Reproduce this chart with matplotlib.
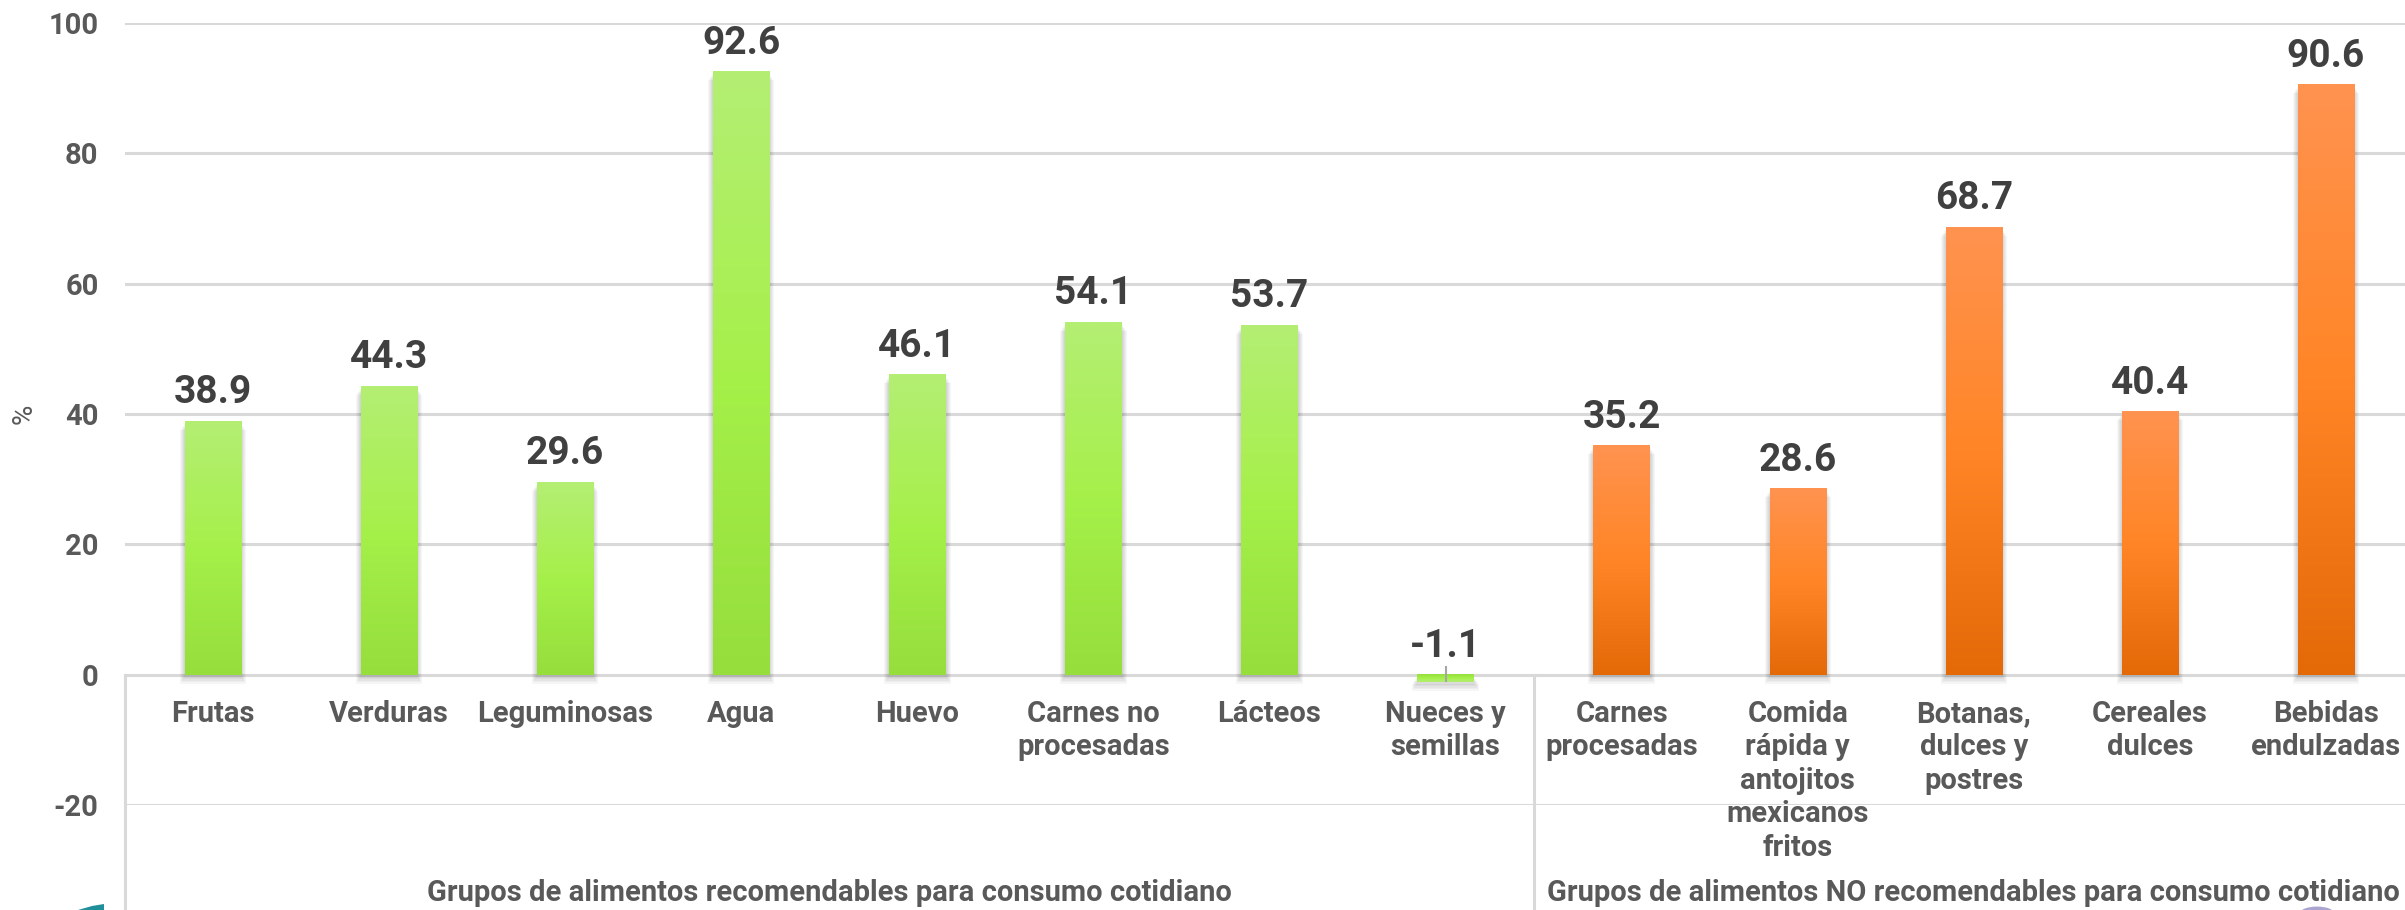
import matplotlib
matplotlib.use("Agg")
import matplotlib.pyplot as plt
import matplotlib.transforms as mtransforms
from matplotlib.patches import Rectangle, Circle, Polygon
import numpy as np

# ---------------- data ----------------
categories = ["Frutas", "Verduras", "Leguminosas", "Agua", "Huevo",
              "Carnes no\nprocesadas", "Lácteos", "Nueces y\nsemillas",
              "Carnes\nprocesadas", "Comida\nrápida y\nantojitos\nmexicanos\nfritos",
              "Botanas,\ndulces y\npostres", "Cereales\ndulces", "Bebidas\nendulzadas"]
values = [38.9, 44.3, 29.6, 92.6, 46.1, 54.1, 53.7, -1.1,
          35.2, 28.6, 68.7, 40.4, 90.6]
groups = ["Grupos de alimentos recomendables para consumo cotidiano",
          "Grupos de alimentos NO recomendables para consumo cotidiano"]
group_sizes = [8, 5]
yticks = [-20, 0, 20, 40, 60, 80, 100]

plt.rcParams['font.family'] = ['Roboto', 'Liberation Sans', 'DejaVu Sans']

W, H = 2405, 910
fig = plt.figure(figsize=(W / 100, H / 100), dpi=100)
fig.patch.set_facecolor("white")

left_px, right_px, top_px, bot_px = 125, 2414, 23, 805
ax = fig.add_axes([left_px / W, (H - bot_px) / H, (right_px - left_px) / W, (bot_px - top_px) / H])
ax.set_xlim(-0.5, len(categories) - 0.5)
ax.set_ylim(-20, 100)
for s in ax.spines.values():
    s.set_visible(False)

GRID = "#d9d9d9"
TXT = "#595959"
LBL = "#404040"

for t in yticks:
    ax.axhline(t, color=GRID, lw=2.2, zorder=1)
ax.set_yticks(yticks)
ax.set_yticklabels([str(t) for t in yticks], fontsize=21, fontweight="bold", color=TXT)
ax.tick_params(axis="y", length=0, pad=19)
ax.set_xticks([])
fig.text(24 / W, (H - 414) / H, "%", rotation=90, ha="center", va="center",
         fontsize=20, color=TXT)

# gradient colormaps
green = matplotlib.colors.LinearSegmentedColormap.from_list(
    "g", ["#95de3c", "#a6f04a", "#b4ee74"])
orange = matplotlib.colors.LinearSegmentedColormap.from_list(
    "o", ["#e46a08", "#ff8526", "#ff9350"])

bw = 0.32
grad = np.linspace(0, 1, 256).reshape(-1, 1)
n_first = group_sizes[0]
px_per_y = (bot_px - top_px) / 120.0
px_per_x = (right_px - left_px) / len(categories)
for i, v in enumerate(values):
    cmap = green if i < n_first else orange
    lo, hi = min(0, v), max(0, v)
    # soft shadow (mostly below the bar)
    for k in range(5):
        off = (3 + k * 1.5) / px_per_y
        grow = (1 + k) / px_per_x
        ax.add_patch(Rectangle((i - bw / 2 - grow, lo - off), bw + 2 * grow, hi - lo,
                               facecolor="#000000", alpha=0.035, lw=0, zorder=2))
    ax.imshow(grad if v >= 0 else grad[::-1], cmap=cmap, origin="lower", aspect="auto",
              extent=(i - bw / 2, i + bw / 2, lo, hi), zorder=3, interpolation="bilinear")
    ax.annotate(f"{v:.1f}", xy=(i, max(v, 0)), xytext=(0, 7), textcoords="offset points",
                ha="center", va="bottom", fontsize=28, fontweight="bold", color=LBL, zorder=5)
    if v < 0:
        ax.plot([i, i], [v * 0.9, 1.1], color="#a6a6a6", lw=1.5, zorder=4)
    ax.annotate(categories[i], xy=(i, 0), xytext=(0, -18), textcoords="offset points",
                ha="center", va="top", fontsize=21, fontweight="bold", color=TXT,
                multialignment="center", linespacing=1.25, annotation_clip=False)

ax.set_xlim(-0.5, len(categories) - 0.5)
ax.set_ylim(-20, 100)

# category-level divider lines
ax_h = bot_px - top_px
ymin_frac = -(H - bot_px) / ax_h
ymax_frac = 20 / 120
bounds = np.cumsum([0] + group_sizes) - 0.5
for b in bounds[:-1]:
    ax.axvline(b, ymin=ymin_frac, ymax=ymax_frac, color=GRID, lw=2.2, clip_on=False, zorder=1)

trans = mtransforms.blended_transform_factory(ax.transData, ax.transAxes)
gy = -(893 - bot_px) / ax_h
for g, a, b in zip(groups, bounds[:-1], bounds[1:]):
    ax.text((a + b) / 2, gy, g, transform=trans, ha="center", va="center",
            fontsize=21, fontweight="bold", color=TXT, clip_on=False)

# slide decorations in corners
fig.patches.append(Circle((2317 / W, (H - 913) / H), 17 / W, transform=fig.transFigure,
                          facecolor="#aaa4d0", edgecolor="none", zorder=0))
fig.patches.append(Polygon([(78 / W, 0), (92 / W, (H - 906) / H), (104 / W, (H - 904) / H),
                            (104 / W, 0)], closed=True, transform=fig.transFigure,
                           facecolor="#1f8f9a", edgecolor="none", zorder=0))

fig.savefig("out.png", dpi=100, facecolor="white")
